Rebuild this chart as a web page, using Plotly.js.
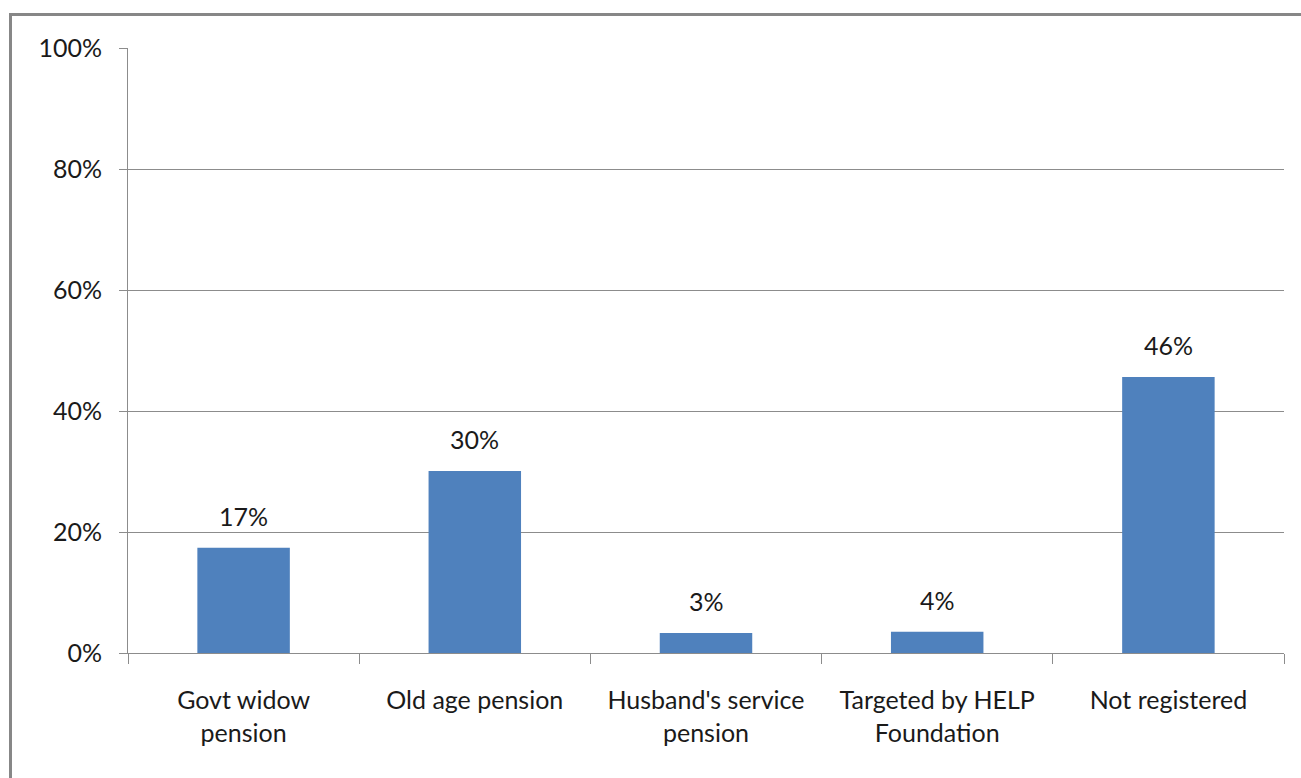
<!DOCTYPE html>
<html>
<head>
<meta charset="utf-8">
<script src="https://cdn.plot.ly/plotly-3.0.1.min.js"></script>
<style>
html,body{margin:0;padding:0;background:#fff;overflow:hidden;}
#frame{position:absolute;left:9px;top:13px;width:1400px;height:800px;border-top:3px solid #878787;border-left:3px solid #878787;box-sizing:border-box;}
#chart{position:absolute;left:0;top:0;width:1301px;height:778px;}
</style>
</head>
<body>
<div id="frame"></div>
<div id="chart"></div>
<script>
var categories = ["Govt widow<br>pension", "Old age pension", "Husband's service<br>pension", "Targeted by HELP<br>Foundation", "Not registered"];
var values = [17.4, 30.1, 3.3, 3.5, 45.6];
var labels = ["17%", "30%", "3%", "4%", "46%"];
var yTicks = [0, 20, 40, 60, 80, 100];
var yTickText = ["0%", "20%", "40%", "60%", "80%", "100%"];

var fontFam = "Lato, Carlito, 'Open Sans', sans-serif";
var txtColor = "#1a1a1a";
var fsize = 25;
var trace = {
  type: "bar",
  x: categories,
  y: values,
  marker: {color: "#4f81bd", line: {width: 0}},
  hoverinfo: "none"
};
var annotations = categories.map(function(c, i){
  return {x: c, y: values[i], xref: "x", yref: "y", text: labels[i], showarrow: false,
    yanchor: "bottom", yshift: 15, font: {family: fontFam, size: fsize, color: txtColor}};
});
var layout = {
  width: 1301, height: 778,
  margin: {l: 128, r: 17, t: 48, b: 125},
  paper_bgcolor: "rgba(0,0,0,0)",
  plot_bgcolor: "rgba(0,0,0,0)",
  showlegend: false,
  bargap: 0.6,
  font: {family: fontFam, size: fsize, color: txtColor},
  xaxis: {
    type: "category",
    showline: true, linecolor: "#8c8c8c", linewidth: 1,
    ticks: "outside", tickson: "boundaries", ticklen: 10, tickcolor: "#8c8c8c",
    ticklabelstandoff: 25,
    tickfont: {family: fontFam, size: fsize, color: txtColor},
    showgrid: false
  },
  yaxis: {
    range: [0, 100],
    tickvals: yTicks, ticktext: yTickText,
    showline: true, linecolor: "#8c8c8c", linewidth: 1,
    ticks: "outside", ticklen: 8, tickcolor: "#8c8c8c",
    ticklabelstandoff: 12,
    showgrid: true, gridcolor: "#8c8c8c", gridwidth: 1,
    zeroline: false,
    tickfont: {family: fontFam, size: fsize, color: txtColor}
  },
  annotations: annotations
};
Plotly.newPlot("chart", [trace], layout, {displayModeBar: false, staticPlot: true});
</script>
</body>
</html>
